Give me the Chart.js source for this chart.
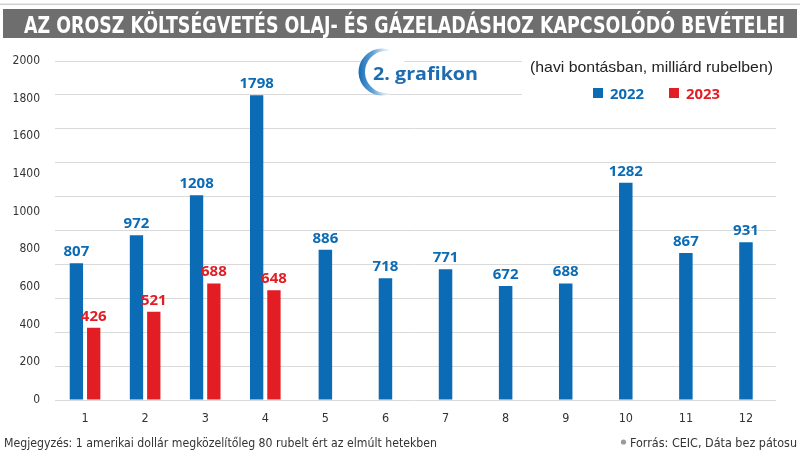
<!DOCTYPE html>
<html><head><meta charset="utf-8">
<script src="https://cdn.jsdelivr.net/npm/chart.js@4.4.1/dist/chart.umd.min.js"></script>
<style>html,body{margin:0;padding:0;background:#fff}#wrap{width:800px;height:451px;position:relative}canvas{display:block}</style>
</head><body><div id="wrap"><canvas id="c" width="800" height="451"></canvas></div>
<script>
// ---- data ----
const months = ['1','2','3','4','5','6','7','8','9','10','11','12'];
const values2022 = [807, 972, 1208, 1798, 886, 718, 771, 672, 688, 1282, 867, 931];
const values2023 = [426, 521, 688, 648, null, null, null, null, null, null, null, null];
const seriesNames = ['2022', '2023'];
const yTickLabels = ['0','200','400','600','800','1000','1400','1600','1800','2000'];
const titleText = 'AZ OROSZ KÖLTSÉGVETÉS OLAJ- ÉS GÁZELADÁSHOZ KAPCSOLÓDÓ BEVÉTELEI';
const badgeText = '2. grafikon';
const subtitleText = '(havi bontásban, milliárd rubelben)';
const noteText = 'Megjegyzés: 1 amerikai dollár megközelítőleg 80 rubelt ért az elmúlt hetekben';
const sourceText = 'Forrás: CEIC, Dáta bez pátosu';

const BLUE = '#0b6cb5';
const RED = '#e31d24';
const COND = "'DejaVu Sans Condensed', 'Liberation Sans Narrow', sans-serif";

function fitText(ctx, text, x, y, width) {
  const w = ctx.measureText(text).width;
  ctx.save();
  ctx.translate(x, y);
  ctx.scale(width / w, 1);
  ctx.textAlign = 'left';
  ctx.fillText(text, 0, 0);
  ctx.restore();
}

const decor = {
  id: 'decor',
  beforeDraw(chart) {
    const ctx = chart.ctx;
    ctx.save();
    ctx.fillStyle = '#fff';
    ctx.fillRect(0, 0, chart.width, chart.height);
    ctx.fillStyle = '#d2d2d2';
    ctx.fillRect(0, 3.5, 800, 1.6);
    ctx.fillStyle = '#6e6e6e';
    ctx.fillRect(3, 9, 794, 29);
    ctx.fillStyle = '#fff';
    ctx.font = "bold 23px " + COND;
    ctx.textBaseline = 'alphabetic';
    fitText(ctx, titleText, 24, 33, 761);
    ctx.restore();
  },
  afterDraw(chart) {
    const ctx = chart.ctx;
    ctx.save();
    // white panel behind subtitle + legend
    ctx.fillStyle = '#fff';
    ctx.fillRect(522, 52, 262, 52);
    // badge
    ctx.beginPath();
    ctx.arc(384, 72, 23, 0, Math.PI * 2);
    ctx.fillStyle = '#fff';
    ctx.fill();
    const g = ctx.createLinearGradient(358, 0, 392, 0);
    g.addColorStop(0, 'rgba(20,105,180,1)');
    g.addColorStop(0.45, 'rgba(60,140,205,0.8)');
    g.addColorStop(1, 'rgba(150,195,230,0)');
    ctx.beginPath();
    ctx.arc(382, 72, 23.5, 0.42 * Math.PI, 1.58 * Math.PI, false);
    ctx.arc(386, 72, 21, 1.55 * Math.PI, 0.45 * Math.PI, true);
    ctx.closePath();
    ctx.fillStyle = g;
    ctx.fill();
    ctx.fillStyle = '#1d6cb2';
    ctx.font = "bold 17px 'Open Sans', sans-serif";
    fitText(ctx, badgeText, 373, 80, 105);
    // subtitle
    ctx.fillStyle = '#222';
    ctx.font = "15px 'Liberation Sans', sans-serif";
    fitText(ctx, subtitleText, 530, 72, 243);
    // legend
    const ds = chart.data.datasets;
    const legendX = [593, 669];
    ds.forEach((d, i) => {
      const x = legendX[i];
      ctx.fillStyle = d.backgroundColor;
      ctx.fillRect(x, 88, 10, 10);
      ctx.font = "bold 15px 'Open Sans', sans-serif";
      fitText(ctx, d.label, x + 17, 99, 34);
    });
    // footer
    ctx.fillStyle = '#333';
    ctx.font = "13px " + COND;
    fitText(ctx, noteText, 4, 446.5, 433);
    fitText(ctx, sourceText, 630, 446.5, 167);
    ctx.fillStyle = '#9a9a9a';
    ctx.beginPath();
    ctx.arc(623.5, 442, 2.6, 0, Math.PI * 2);
    ctx.fill();
    ctx.restore();
  }
};

const valueLabels = {
  id: 'valueLabels',
  afterDatasetsDraw(chart) {
    const ctx = chart.ctx;
    ctx.save();
    ctx.font = "bold 15px 'Open Sans', sans-serif";
    ctx.textAlign = 'center';
    ctx.textBaseline = 'alphabetic';
    chart.data.datasets.forEach((ds, i) => {
      const meta = chart.getDatasetMeta(i);
      meta.data.forEach((bar, j) => {
        const v = ds.data[j];
        if (v === null || v === undefined) return;
        ctx.fillStyle = ds.backgroundColor;
        ctx.fillText(String(v), bar.x, bar.y - 7);
      });
    });
    ctx.restore();
  }
};

new Chart(document.getElementById('c'), {
  type: 'bar',
  data: {
    labels: months,
    datasets: [
      { label: seriesNames[0], data: values2022, backgroundColor: BLUE, yAxisID: 'y', skipNull: true },
      { label: seriesNames[1], data: values2023, backgroundColor: RED, yAxisID: 'y', skipNull: true }
    ]
  },
  options: {
    responsive: false,
    devicePixelRatio: 1,
    animation: false,
    categoryPercentage: 0.576,
    barPercentage: 0.77,
    maxBarThickness: 13.5,
    layout: { padding: { left: 0, right: 24, top: 61, bottom: 21 } },
    plugins: { legend: { display: false }, tooltip: { enabled: false }, title: { display: false } },
    scales: {
      x: {
        grid: { display: false, drawTicks: false },
        border: { display: false },
        ticks: { color: '#333', font: { family: COND, size: 12.5 }, padding: 11, maxRotation: 0, autoSkip: false },
        afterFit(s) { s.height = 30; }
      },
      y: {
        min: 0, max: 2000,
        position: 'left',
        ticks: { display: false, stepSize: 200 },
        grid: { color: '#dadada', lineWidth: 1, drawTicks: false },
        border: { display: false },
        afterFit(s) { s.width = 0; }
      },
      yLab: {
        type: 'linear',
        min: 0, max: yTickLabels.length - 1,
        position: 'left',
        grid: { display: false, drawTicks: false },
        border: { display: false },
        ticks: {
          stepSize: 1, autoSkip: false,
          callback: (v) => yTickLabels[v],
          color: '#333', font: { family: COND, size: 12 }, padding: 15
        },
        afterFit(s) { s.width = 55; }
      }
    }
  },
  plugins: [decor, valueLabels]
});
</script>
</body></html>
